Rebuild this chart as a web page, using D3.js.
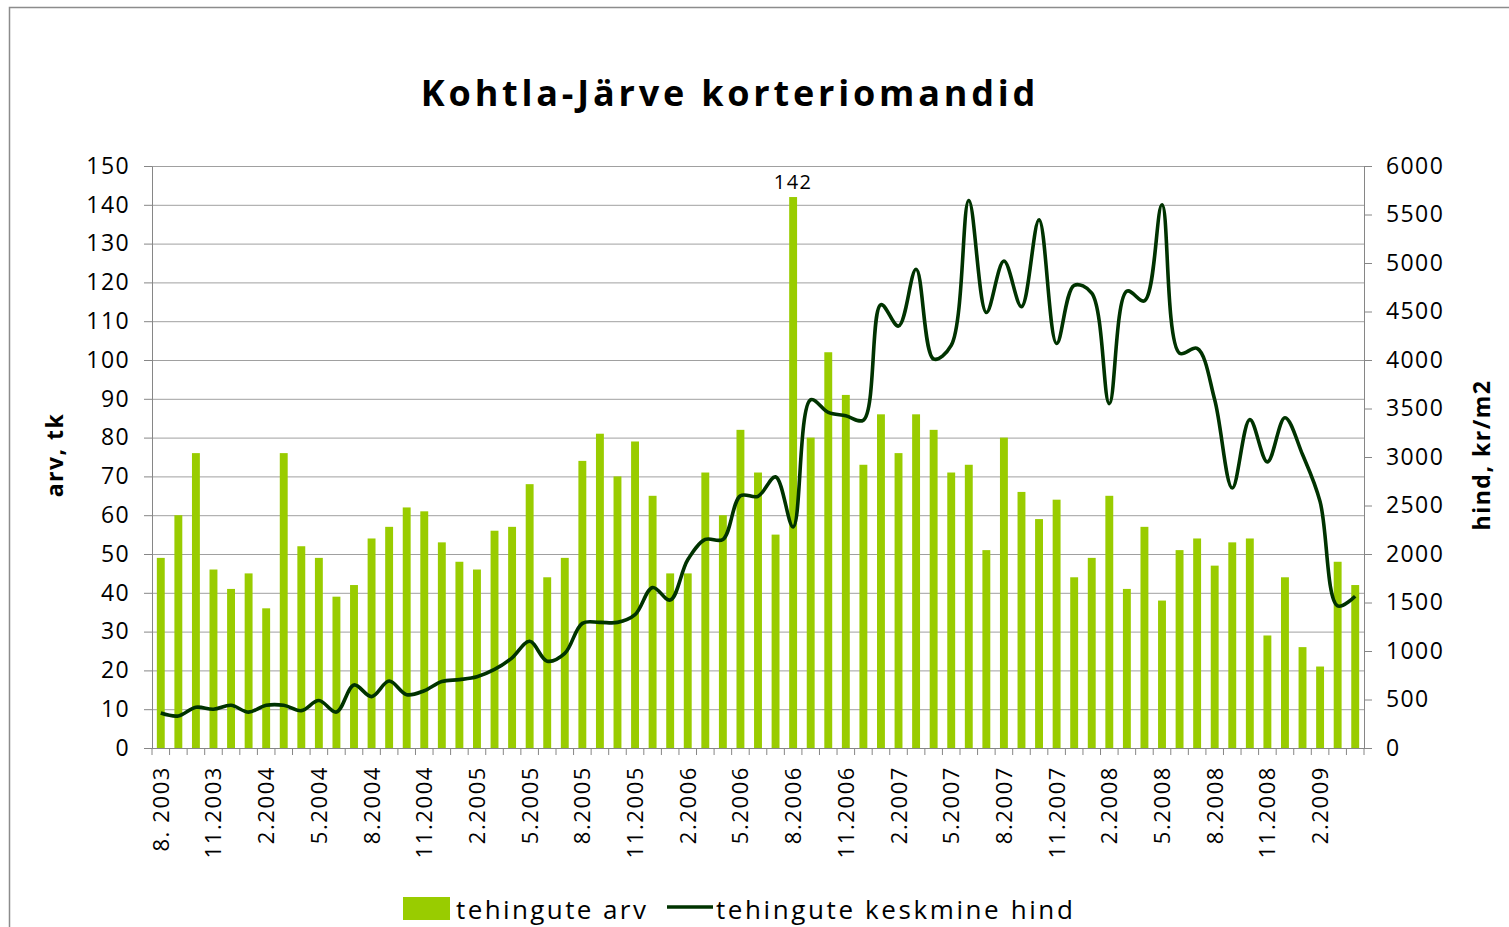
<!DOCTYPE html>
<html>
<head>
<meta charset="utf-8">
<script src="https://cdn.jsdelivr.net/npm/d3@7"></script>
<style>
  body { margin: 0; background: #fff; }
  svg { display: block; }
  .axis path, .axis line { stroke: #868686; }
  .axis text { font-family: "Open Sans", "Noto Sans", sans-serif; fill: #000; }
</style>
</head>
<body>
<svg id="chart"></svg>
<script>
// months 8.2003 .. 4.2009
var months = [
	"8.2003","9.2003","10.2003","11.2003","12.2003",
	"1.2004","2.2004","3.2004","4.2004","5.2004","6.2004","7.2004","8.2004","9.2004","10.2004","11.2004","12.2004",
	"1.2005","2.2005","3.2005","4.2005","5.2005","6.2005","7.2005","8.2005","9.2005","10.2005","11.2005","12.2005",
	"1.2006","2.2006","3.2006","4.2006","5.2006","6.2006","7.2006","8.2006","9.2006","10.2006","11.2006","12.2006",
	"1.2007","2.2007","3.2007","4.2007","5.2007","6.2007","7.2007","8.2007","9.2007","10.2007","11.2007","12.2007",
	"1.2008","2.2008","3.2008","4.2008","5.2008","6.2008","7.2008","8.2008","9.2008","10.2008","11.2008","12.2008",
	"1.2009","2.2009","3.2009","4.2009"
];

// tehingute arv (left axis)
var dealCount = [
	49, 60, 76, 46, 41, 45, 36, 76, 52, 49, 39, 42, 54, 57, 62, 61, 53, 48, 46,
	56, 57, 68, 44, 49, 74, 81, 70, 79, 65, 45, 45, 71, 60, 82, 71, 55, 142,
	80, 102, 91, 73, 86, 76, 86, 82, 71, 73, 51, 80, 66, 59, 64, 44,
	49, 65, 41, 57, 38, 51, 54, 47, 53, 54, 29, 44, 26, 21, 48, 42
];

// tehingute keskmine hind, kr/m2 (right axis)
var avgPrice = [
	360, 330, 420, 400, 440, 370, 440, 440, 385, 490, 370, 650, 530, 690, 550, 590, 685, 705, 735,
	810, 930, 1100, 895, 975, 1285, 1295, 1295, 1375, 1655, 1525, 1940, 2150, 2150, 2600, 2595, 2795, 2280,
	3590, 3460, 3425, 3380, 4570, 4350, 4935, 4010, 4150, 5645, 4490, 5020, 4550, 5445, 4170, 4770,
	4690, 3550, 4710, 4610, 5600, 4070, 4120, 3590, 2680, 3385, 2950, 3405, 3025, 2540, 1465, 1565
];

var xTickLabels = ["8. 2003","11.2003","2.2004","5.2004","8.2004","11.2004","2.2005","5.2005",
	"8.2005","11.2005","2.2006","5.2006","8.2006","11.2006","2.2007","5.2007","8.2007",
	"11.2007","2.2008","5.2008","8.2008","11.2008","2.2009"];

var leftTicks = d3.range(0, 151, 10);
var rightTicks = d3.range(0, 6001, 500);

var W = 1509, H = 927;
var plot = { left: 152, right: 1364, top: 166, bottom: 748 };
var FONT = "'Open Sans', 'Noto Sans', sans-serif";

var svg = d3.select("#chart").attr("width", W).attr("height", H);

// outer frame
svg.append("rect")
	.attr("x", 9.5).attr("y", 7.5)
	.attr("width", W + 20).attr("height", H + 20)
	.attr("fill", "none").attr("stroke", "#8c8c8c").attr("stroke-width", 1.5);

var x = d3.scaleBand()
	.domain(d3.range(months.length))
	.range([plot.left, plot.right])
	.paddingInner(0.55)
	.paddingOuter(0.275);

var yL = d3.scaleLinear().domain([0, 150]).range([plot.bottom, plot.top]);
var yR = d3.scaleLinear().domain([0, 6000]).range([plot.bottom, plot.top]);

// gridlines
svg.append("g")
	.attr("transform", "translate(" + plot.left + ",0)")
	.call(d3.axisLeft(yL).tickValues(leftTicks).tickSize(-(plot.right - plot.left)).tickFormat(""))
	.call(function(g) {
		g.select(".domain").remove();
		g.selectAll("line").attr("stroke", "#a0a0a0").attr("stroke-width", 1);
	});

// bars
svg.append("g").selectAll("rect")
	.data(dealCount)
	.join("rect")
	.attr("x", function(d, i) { return x(i); })
	.attr("y", function(d) { return yL(d); })
	.attr("width", x.bandwidth())
	.attr("height", function(d) { return yL(0) - yL(d); })
	.attr("fill", "#99cc00");

// label on the tallest bar
var maxI = d3.maxIndex(dealCount);
svg.append("text")
	.attr("x", x(maxI) + x.bandwidth() / 2)
	.attr("y", yL(dealCount[maxI]) - 8)
	.attr("text-anchor", "middle")
	.style("font-family", FONT)
	.style("font-size", "20px")
	.style("letter-spacing", "1.5px")
	.text(dealCount[maxI]);

// price line
var line = d3.line()
	.x(function(d, i) { return x(i) + x.bandwidth() / 2; })
	.y(function(d) { return yR(d); })
	.curve(d3.curveCatmullRom.alpha(0.5));

svg.append("path")
	.datum(avgPrice)
	.attr("d", line)
	.attr("fill", "none")
	.attr("stroke", "#003300")
	.attr("stroke-width", 3.6)
	.attr("stroke-linejoin", "round");

// left axis
var axL = svg.append("g")
	.attr("class", "axis")
	.attr("transform", "translate(" + plot.left + ",0)")
	.call(d3.axisLeft(yL).tickValues(leftTicks).tickSize(8).tickSizeOuter(0).tickPadding(14));
axL.selectAll("text").style("font-size", "23px").style("letter-spacing", "1.4px");

// right axis
var axR = svg.append("g")
	.attr("class", "axis")
	.attr("transform", "translate(" + plot.right + ",0)")
	.call(d3.axisRight(yR).tickValues(rightTicks).tickFormat(d3.format("d")).tickSize(8).tickSizeOuter(0).tickPadding(14));
axR.selectAll("text").style("font-size", "23px").style("letter-spacing", "1.4px");

// bottom axis: ticks at every month boundary
var bounds = d3.range(months.length + 1).map(function(i) {
	return plot.left + i * x.step();
});
svg.append("line")
	.attr("x1", plot.left).attr("x2", plot.right)
	.attr("y1", plot.bottom + 0.5).attr("y2", plot.bottom + 0.5)
	.attr("stroke", "#868686");
svg.append("g").selectAll("line")
	.data(bounds)
	.join("line")
	.attr("x1", function(d) { return d; }).attr("x2", function(d) { return d; })
	.attr("y1", plot.bottom).attr("y2", plot.bottom + 7)
	.attr("stroke", "#868686");

svg.append("g").selectAll("text")
	.data(xTickLabels)
	.join("text")
	.attr("transform", function(d, i) {
		var cx = x(i * 3) + x.bandwidth() / 2 + 8;
		return "translate(" + cx + "," + (plot.bottom + 18) + ") rotate(-90)";
	})
	.attr("text-anchor", "end")
	.style("font-family", FONT)
	.style("font-size", "22px")
	.style("letter-spacing", "1.6px")
	.text(function(d) { return d; });

// title
svg.append("text")
	.attr("x", 730).attr("y", 106)
	.attr("text-anchor", "middle")
	.style("font-family", FONT)
	.style("font-weight", "bold")
	.style("font-size", "36px")
	.style("letter-spacing", "3.8px")
	.text("Kohtla-Järve korteriomandid");

// axis titles
svg.append("text")
	.attr("transform", "translate(63,455) rotate(-90)")
	.attr("text-anchor", "middle")
	.style("font-family", FONT)
	.style("font-weight", "bold")
	.style("font-size", "23px")
	.style("letter-spacing", "1.5px")
	.text("arv, tk");

svg.append("text")
	.attr("transform", "translate(1490,455) rotate(-90)")
	.attr("text-anchor", "middle")
	.style("font-family", FONT)
	.style("font-weight", "bold")
	.style("font-size", "23px")
	.style("letter-spacing", "1.5px")
	.text("hind, kr/m2");

// legend
var legend = svg.append("g").style("font-family", FONT).style("font-size", "26px");
legend.append("rect")
	.attr("x", 403).attr("y", 897).attr("width", 47).attr("height", 23)
	.attr("fill", "#99cc00");
legend.append("text")
	.attr("x", 456).attr("y", 919)
	.style("letter-spacing", "2.4px")
	.text("tehingute arv");
legend.append("line")
	.attr("x1", 667).attr("x2", 713).attr("y1", 907).attr("y2", 907)
	.attr("stroke", "#003300").attr("stroke-width", 3.4);
legend.append("text")
	.attr("x", 716).attr("y", 919)
	.style("letter-spacing", "2.6px")
	.text("tehingute keskmine hind");
</script>
</body>
</html>
